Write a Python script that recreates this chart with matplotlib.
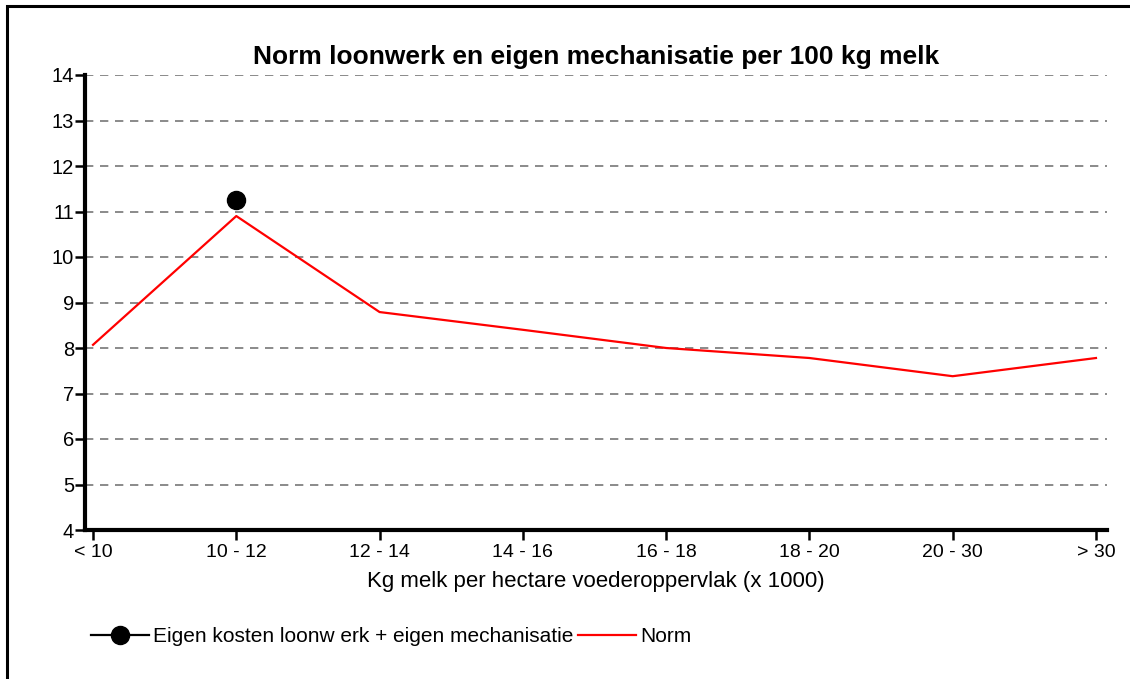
import matplotlib
matplotlib.use('Agg')
import matplotlib.pyplot as plt
from matplotlib.patches import Rectangle

plt.rcParams['font.family'] = ['Liberation Sans', 'DejaVu Sans']

categories = ['< 10', '10 - 12', '12 - 14', '14 - 16', '16 - 18', '18 - 20', '20 - 30', '> 30']
norm = [8.07, 10.9, 8.79, 8.4, 8.0, 7.78, 7.38, 7.78]
eigen_x = [1]
eigen = [11.25]

yticks = list(range(4, 15))

fig = plt.figure(figsize=(11.3, 6.79), dpi=100)
fig.patches.append(Rectangle((7 / 1130, -0.1), 1.2, (679 - 6) / 679 + 0.1,
                             transform=fig.transFigure, fill=False,
                             edgecolor='black', linewidth=2.2))

ax = fig.add_axes([85 / 1130, 1 - 530 / 679, (1107 - 85) / 1130, (530 - 75) / 679])

x = list(range(len(categories)))
ax.plot(x, norm, color='#ff0000', linewidth=1.6, label='Norm', zorder=3)
ax.plot(eigen_x, eigen, color='black', marker='o', markersize=13, linewidth=1.6,
        label='Eigen kosten loonw erk + eigen mechanisatie', zorder=4)

ax.set_xlim(-0.056, 7.077)
ax.set_ylim(4, 14)
ax.set_xticks(x)
ax.set_xticklabels(categories, fontsize=14)
ax.set_yticks(yticks)
ax.set_yticklabels([str(v) for v in yticks], fontsize=14.5)

for v in yticks[1:]:
    ax.axhline(v, color='#777777', linestyle=(0, (5, 4)), linewidth=1.2, zorder=1)

for side in ['top', 'right']:
    ax.spines[side].set_visible(False)
for side in ['left', 'bottom']:
    ax.spines[side].set_linewidth(3)
ax.tick_params(axis='both', direction='out', width=1.8, length=7, pad=1)
ax.tick_params(axis='x', pad=3)

ax.set_title('Norm loonwerk en eigen mechanisatie per 100 kg melk',
             fontsize=19, fontweight='bold', pad=8)
ax.set_xlabel('Kg melk per hectare voederoppervlak (x 1000)', fontsize=16, labelpad=7)

handles, labels = ax.get_legend_handles_labels()
fig.legend(handles[::-1], labels[::-1], loc='center left',
           bbox_to_anchor=(72 / 1130, 1 - 637 / 679), ncol=2, frameon=False,
           fontsize=15, handlelength=2.8, columnspacing=0.2, handletextpad=0.2)

fig.savefig('out.png', dpi=100)
